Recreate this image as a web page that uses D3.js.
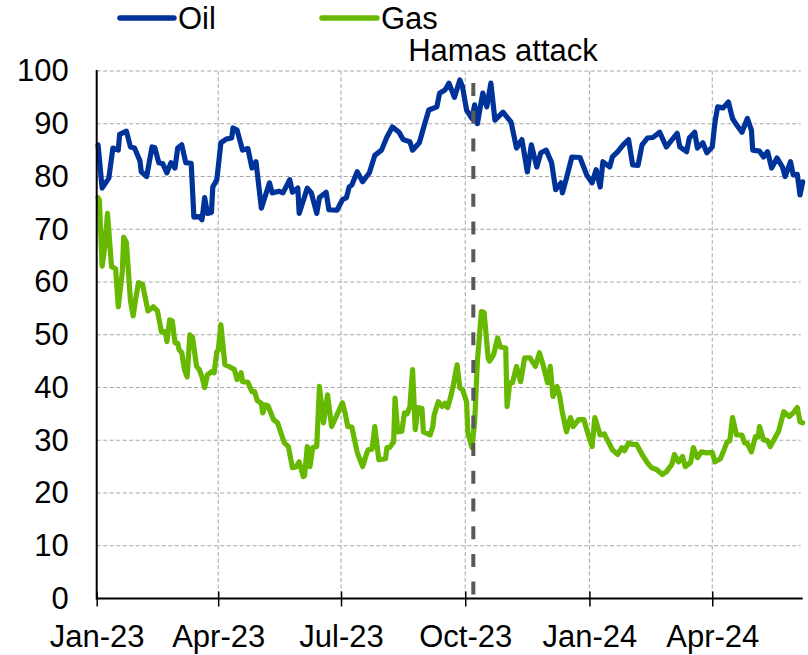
<!DOCTYPE html>
<html>
<head>
<meta charset="utf-8">
<script src="https://cdn.jsdelivr.net/npm/d3@7"></script>
<style>
  html, body { margin: 0; padding: 0; background: #fff; }
  svg { display: block; }
  text { font-family: "Liberation Sans", Arial, sans-serif; fill: #000; }
</style>
</head>
<body>
<svg id="chart" width="808" height="655"></svg>
<script>
// ---------- DATA ----------
const oilDates = ["2023-01-02","2023-01-05","2023-01-10","2023-01-13","2023-01-17","2023-01-18","2023-01-23","2023-01-26","2023-01-29","2023-02-02",
"2023-02-03","2023-02-07","2023-02-11","2023-02-13","2023-02-16","2023-02-19","2023-02-22","2023-02-25","2023-02-28","2023-03-02",
"2023-03-05","2023-03-08","2023-03-12","2023-03-14","2023-03-18","2023-03-20","2023-03-22","2023-03-24","2023-03-27","2023-03-28",
"2023-03-31","2023-04-03","2023-04-07","2023-04-11","2023-04-12","2023-04-15","2023-04-19","2023-04-23","2023-04-26","2023-04-29",
"2023-05-03","2023-05-09","2023-05-11","2023-05-16","2023-05-19","2023-05-24","2023-05-26","2023-05-30","2023-05-31","2023-06-06",
"2023-06-09","2023-06-13","2023-06-15","2023-06-20","2023-06-22","2023-06-28","2023-07-02","2023-07-05","2023-07-07","2023-07-09",
"2023-07-13","2023-07-17","2023-07-22","2023-07-26","2023-07-31","2023-08-04","2023-08-08","2023-08-13","2023-08-16","2023-08-21",
"2023-08-23","2023-08-28","2023-09-01","2023-09-04","2023-09-10","2023-09-12","2023-09-16","2023-09-19","2023-09-23","2023-09-27",
"2023-09-29","2023-10-02","2023-10-06","2023-10-08","2023-10-10","2023-10-14","2023-10-17","2023-10-20","2023-10-23","2023-10-29",
"2023-11-04","2023-11-08","2023-11-12","2023-11-16","2023-11-19","2023-11-23","2023-11-26","2023-11-30","2023-12-04","2023-12-07",
"2023-12-11","2023-12-12","2023-12-15","2023-12-19","2023-12-25","2023-12-30","2024-01-03","2024-01-06","2024-01-09","2024-01-11",
"2024-01-16","2024-01-18","2024-01-22","2024-01-26","2024-01-30","2024-02-02","2024-02-06","2024-02-09","2024-02-13","2024-02-17",
"2024-02-22","2024-02-27","2024-03-06","2024-03-08","2024-03-13","2024-03-15","2024-03-19","2024-03-21","2024-03-25","2024-03-28",
"2024-04-01","2024-04-03","2024-04-05","2024-04-09","2024-04-13","2024-04-16","2024-04-19","2024-04-23","2024-04-27","2024-04-30",
"2024-05-01","2024-05-06","2024-05-09","2024-05-12","2024-05-15","2024-05-19","2024-05-23","2024-05-25","2024-05-29","2024-05-31",
"2024-06-03","2024-06-05","2024-06-07"];

const oilValues = [86.0,77.8,79.7,85.4,85.0,88.0,88.6,85.6,85.4,83.0,
80.9,80.0,85.6,85.5,82.6,82.4,80.7,82.6,81.6,85.4,
86.0,82.6,82.5,72.3,72.4,71.8,76.0,73.0,73.2,78.0,
79.4,86.4,87.1,87.3,89.2,88.8,85.0,85.3,81.6,82.8,
74.0,78.8,76.9,77.2,76.9,79.4,77.0,77.8,73.0,77.8,
76.9,73.0,76.0,77.0,73.7,73.6,75.6,76.0,78.0,78.4,
80.9,79.0,80.7,84.0,85.0,87.5,89.4,88.4,87.0,86.6,
85.0,86.4,90.0,92.6,93.2,95.8,96.4,97.7,95.0,98.3,
97.0,92.6,91.0,93.6,90.0,95.8,93.2,97.7,90.7,92.2,
90.3,85.4,87.0,80.9,86.0,81.8,84.5,85.0,82.6,77.5,
78.8,76.9,79.7,83.7,83.6,80.3,78.8,81.3,78.0,82.8,
81.8,83.7,84.7,86.0,87.0,82.2,82.1,86.0,87.3,87.4,
88.4,85.6,88.2,85.6,84.7,87.3,88.4,85.4,86.4,84.5,
85.6,90.3,93.2,93.0,94.1,91.0,89.8,88.4,91.0,88.8,
85.0,84.8,83.7,84.7,81.6,83.5,81.8,80.0,82.8,80.3,
80.4,76.5,79.0];

const gasDates = ["2023-01-02","2023-01-03","2023-01-05","2023-01-07","2023-01-09","2023-01-12","2023-01-15","2023-01-17","2023-01-20","2023-01-21",
"2023-01-23","2023-01-26","2023-01-28","2023-01-30","2023-02-01","2023-02-04","2023-02-08","2023-02-12","2023-02-15","2023-02-18",
"2023-02-21","2023-02-22","2023-02-24","2023-02-26","2023-02-28","2023-03-02","2023-03-03","2023-03-05","2023-03-07","2023-03-09",
"2023-03-11","2023-03-13","2023-03-16","2023-03-18","2023-03-20","2023-03-22","2023-03-24","2023-03-27","2023-03-29","2023-03-31",
"2023-04-01","2023-04-03","2023-04-06","2023-04-09","2023-04-13","2023-04-15","2023-04-18","2023-04-19","2023-04-23","2023-04-26",
"2023-04-28","2023-04-30","2023-05-03","2023-05-04","2023-05-06","2023-05-08","2023-05-12","2023-05-15","2023-05-18","2023-05-20",
"2023-05-23","2023-05-26","2023-05-29","2023-05-31","2023-06-03","2023-06-04","2023-06-06","2023-06-08","2023-06-10","2023-06-13",
"2023-06-15","2023-06-18","2023-06-21","2023-06-24","2023-06-28","2023-07-02","2023-07-04","2023-07-06","2023-07-09","2023-07-13",
"2023-07-17","2023-07-19","2023-07-21","2023-07-24","2023-07-26","2023-07-29","2023-08-03","2023-08-04","2023-08-06","2023-08-09",
"2023-08-10","2023-08-12","2023-08-15","2023-08-17","2023-08-19","2023-08-21","2023-08-23","2023-08-25","2023-08-27","2023-08-30",
"2023-08-31","2023-09-05","2023-09-07","2023-09-08","2023-09-11","2023-09-14","2023-09-16","2023-09-18","2023-09-20","2023-09-22",
"2023-09-25","2023-09-27","2023-09-29","2023-10-02","2023-10-03","2023-10-06","2023-10-08","2023-10-10","2023-10-13","2023-10-15",
"2023-10-18","2023-10-19","2023-10-22","2023-10-25","2023-10-27","2023-10-31","2023-11-01","2023-11-03","2023-11-05","2023-11-08",
"2023-11-11","2023-11-14","2023-11-18","2023-11-22","2023-11-25","2023-11-28","2023-12-01","2023-12-03","2023-12-05","2023-12-08",
"2023-12-10","2023-12-12","2023-12-15","2023-12-18","2023-12-20","2023-12-24","2023-12-28","2023-12-30","2024-01-03","2024-01-05",
"2024-01-09","2024-01-12","2024-01-15","2024-01-18","2024-01-22","2024-01-25","2024-01-27","2024-01-30","2024-02-02","2024-02-05",
"2024-02-09","2024-02-13","2024-02-16","2024-02-20","2024-02-24","2024-02-27","2024-03-02","2024-03-04","2024-03-07","2024-03-10",
"2024-03-12","2024-03-16","2024-03-18","2024-03-21","2024-03-24","2024-03-28","2024-04-01","2024-04-03","2024-04-07","2024-04-09",
"2024-04-12","2024-04-14","2024-04-16","2024-04-19","2024-04-23","2024-04-25","2024-04-27","2024-04-30","2024-05-03","2024-05-05",
"2024-05-06","2024-05-09","2024-05-12","2024-05-14","2024-05-18","2024-05-20","2024-05-24","2024-05-28","2024-05-31","2024-06-03",
"2024-06-05","2024-06-07"];

const gasValues = [76.0,75.5,63.0,66.7,73.0,62.9,62.5,55.3,62.0,68.5,
67.5,56.5,53.6,57.0,59.9,59.5,54.5,55.3,54.5,50.5,
50.6,48.7,52.8,52.6,48.5,48.4,47.2,46.6,43.4,42.0,
50.0,49.5,44.0,43.4,42.0,40.0,42.4,43.0,42.8,46.8,
47.0,51.9,44.3,44.0,43.4,41.5,42.8,41.1,41.0,39.2,
39.2,37.5,37.0,35.2,36.7,36.5,33.9,33.3,31.0,29.5,
28.8,24.8,25.0,25.9,23.1,23.3,28.8,25.0,28.6,28.8,
40.2,33.3,38.6,32.6,34.8,37.1,35.2,32.6,32.5,27.7,
25.0,26.7,28.2,28.3,32.6,26.3,26.5,28.6,28.6,29.7,
38.0,31.6,31.7,35.2,35.0,36.4,43.4,32.0,36.2,36.0,
31.6,31.0,32.6,34.8,37.3,36.4,37.0,36.2,38.0,40.2,
44.3,39.9,39.6,37.3,31.4,28.6,33.5,44.9,54.4,54.2,
45.6,45.0,46.2,49.4,47.7,47.5,36.4,40.9,40.9,44.0,
41.1,45.6,45.6,44.0,46.6,44.0,40.9,44.0,38.3,40.2,
38.3,35.2,31.6,34.3,32.6,33.9,33.9,32.0,28.8,34.3,
31.0,31.2,29.7,28.2,27.3,28.6,28.0,29.5,29.2,29.2,
27.3,25.7,24.8,24.4,23.5,24.0,25.4,27.3,25.9,26.9,
25.0,25.8,28.6,26.7,27.8,27.6,27.7,25.9,26.5,27.7,
29.7,29.9,34.3,31.0,31.0,29.5,29.4,27.8,30.7,30.6,
32.6,30.1,29.9,28.8,30.7,31.6,35.4,34.5,35.2,36.2,
33.5,33.3];

const seriesNames = ["Oil", "Gas"];
const xTickDates = ["2023-01-01","2023-04-01","2023-07-01","2023-10-01","2024-01-01","2024-04-01"];
const xTickLabels = ["Jan-23","Apr-23","Jul-23","Oct-23","Jan-24","Apr-24"];
const yTicks = [0,10,20,30,40,50,60,70,80,90,100];
const eventDate = "2023-10-07";
const eventLabel = "Hamas attack";
const xDomain = ["2023-01-01","2024-06-07"];

// ---------- DRAW ----------
(function () {
  const parse = d3.utcParse("%Y-%m-%d");
  const colors = { Oil: "#003399", Gas: "#66B800" };
  const fontSize = 31;

  const pLeft = 96.7, pRight = 802.7, pTop = 71, pBottom = 598.5;
  const svg = d3.select("#chart");

  const x = d3.scaleUtc().domain(xDomain.map(parse)).range([pLeft, pRight]);
  const y = d3.scaleLinear().domain([0, 100]).range([pBottom, pTop]);

  const oilData = oilDates.map((d, i) => ({ date: parse(d), value: oilValues[i] }));
  const gasData = gasDates.map((d, i) => ({ date: parse(d), value: gasValues[i] }));

  // Horizontal gridlines
  svg.append("g")
    .selectAll("line")
    .data(yTicks.filter(t => t > 0))
    .join("line")
    .attr("x1", pLeft).attr("x2", pRight - 2)
    .attr("y1", d => y(d)).attr("y2", d => y(d))
    .attr("stroke", "#A6A6A6")
    .attr("stroke-width", 1)
    .attr("stroke-dasharray", "4,2.5");

  // Vertical gridlines
  svg.append("g")
    .selectAll("line")
    .data(xTickDates.slice(1).map(parse))
    .join("line")
    .attr("x1", d => x(d)).attr("x2", d => x(d))
    .attr("y1", pTop).attr("y2", pBottom)
    .attr("stroke", "#A6A6A6")
    .attr("stroke-width", 1)
    .attr("stroke-dasharray", "4,2.5");

  // Y axis labels
  const yAxis = d3.axisLeft(y).tickValues(yTicks).tickSize(0).tickPadding(28);
  const yg = svg.append("g").attr("transform", `translate(${pLeft},0)`).call(yAxis);
  yg.select(".domain").remove();
  yg.selectAll("text")
    .style("font-family", '"Liberation Sans", Arial, sans-serif')
    .style("font-size", fontSize + "px")
    .attr("fill", "#000");

  // Lines
  const line = d3.line()
    .x(d => x(d.date))
    .y(d => y(d.value));

  svg.append("path")
    .datum(gasData)
    .attr("fill", "none")
    .attr("stroke", colors.Gas)
    .attr("stroke-width", 5.2)
    .attr("stroke-linejoin", "round")
    .attr("stroke-linecap", "round")
    .attr("d", line);

  svg.append("path")
    .datum(oilData)
    .attr("fill", "none")
    .attr("stroke", colors.Oil)
    .attr("stroke-width", 5.2)
    .attr("stroke-linejoin", "round")
    .attr("stroke-linecap", "round")
    .attr("d", line);

  // Y axis line
  svg.append("line")
    .attr("x1", pLeft).attr("x2", pLeft)
    .attr("y1", pTop - 1).attr("y2", pBottom + 1)
    .attr("stroke", "#000").attr("stroke-width", 2);

  // X axis
  const xAxis = d3.axisBottom(x)
    .tickValues(xTickDates.map(parse))
    .tickFormat((d, i) => xTickLabels[i])
    .tickSize(0)
    .tickPadding(26);
  const xg = svg.append("g").attr("transform", `translate(0,${pBottom})`).call(xAxis);
  xg.select(".domain").remove();
  xg.selectAll("text")
    .style("font-family", '"Liberation Sans", Arial, sans-serif')
    .style("font-size", fontSize + "px")
    .attr("fill", "#000");
  xg.selectAll(".tick").append("line")
    .attr("y1", -7).attr("y2", 8)
    .attr("stroke", "#000").attr("stroke-width", 1.5);

  svg.append("line")
    .attr("x1", pLeft).attr("x2", pRight)
    .attr("y1", pBottom).attr("y2", pBottom)
    .attr("stroke", "#000").attr("stroke-width", 2);

  // Event line
  const ex = x(parse(eventDate));
  svg.append("line")
    .attr("x1", ex).attr("x2", ex)
    .attr("y1", 83).attr("y2", pBottom)
    .attr("stroke", "#595959")
    .attr("stroke-width", 4)
    .attr("stroke-dasharray", "13,14.7");

  svg.append("text")
    .attr("x", 503).attr("y", 61)
    .attr("text-anchor", "middle")
    .style("font-size", fontSize + "px")
    .text(eventLabel);

  // Legend
  const legendPos = [{ x1: 120, x2: 174, tx: 178 }, { x1: 322, x2: 377, tx: 381 }];
  seriesNames.forEach((name, i) => {
    const p = legendPos[i];
    svg.append("line")
      .attr("x1", p.x1).attr("x2", p.x2)
      .attr("y1", 18).attr("y2", 18)
      .attr("stroke", colors[name])
      .attr("stroke-width", 5.5)
      .attr("stroke-linecap", "round");
    svg.append("text")
      .attr("x", p.tx).attr("y", 29)
      .style("font-size", fontSize + "px")
      .text(name);
  });
})();
</script>
</body>
</html>
